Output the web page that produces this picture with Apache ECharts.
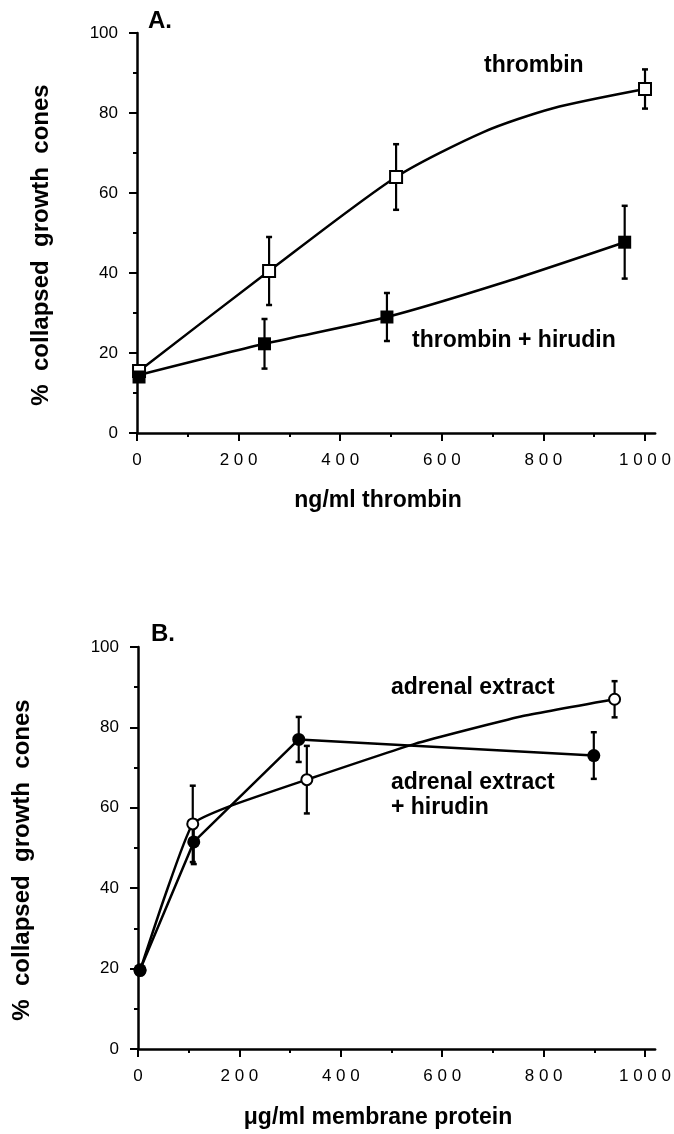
<!DOCTYPE html>
<html>
<head>
<meta charset="utf-8">
<script src="https://cdn.jsdelivr.net/npm/echarts@6/dist/echarts.min.js"></script>
<style>
  html, body { margin: 0; padding: 0; background: #fff; }
  #chart { width: 674px; height: 1134px; }
</style>
</head>
<body>
<div id="chart"></div>
<script>
// ticks (shared by both panels)
var xMajor = [0, 200, 400, 600, 800, 1000];
var xMinor = [100, 300, 500, 700, 900];
var yMajor = [0, 20, 40, 60, 80, 100];

// panel A - thrombin dose response
var thrombinX = [4, 260, 510, 1000];
var thrombinY = [15.5, 40.5, 64, 86];
var thrombinErr = [0, 8.5, 8.2, 4.9];
var thrombinCurve = [[4, 15.5], [260, 40.5], [510, 64], [683, 75.3], [819, 81.2], [1000, 86]];

var hirudinX = [4, 251, 492, 960];
var hirudinY = [14, 22.3, 29, 47.7];
var hirudinErr = [0, 6.2, 6, 9.1];
var hirudinCurve = [[4, 14.5], [251, 22.3], [492, 29], [718, 37.5], [960, 47.7]];

// panel B - adrenal extract
var adrenalX = [4, 108, 333, 940];
var adrenalY = [19.5, 56, 67, 87];
var adrenalErr = [0, 9.5, 8.4, 4.5];
var adrenalCurve = [[4, 19.5], [53, 38], [108, 56], [179, 60.3], [333, 67], [546, 75.9], [755, 82.7], [940, 87]];

var adrenalHirX = [4, 110, 317, 899];
var adrenalHirY = [19.7, 51.5, 77, 73];
var adrenalHirErr = [0, 5.5, 5.6, 5.8];

var FONT = '"Liberation Sans", Arial, Helvetica, sans-serif';

function pts(xs, ys) {
  return xs.map(function (x, i) { return [x, ys[i]]; });
}
function errs(xs, ys, es) {
  var out = [];
  xs.forEach(function (x, i) {
    if (es[i] > 0) out.push([x, ys[i] - es[i], ys[i] + es[i]]);
  });
  return out;
}

function renderErr(params, api) {
  var x = api.value(0);
  var top = api.coord([x, api.value(2)]);
  var bot = api.coord([x, api.value(1)]);
  var cap = 3;
  return {
    type: 'group',
    children: [
      { type: 'line', shape: { x1: top[0], y1: top[1], x2: bot[0], y2: bot[1] }, style: { stroke: '#000', lineWidth: 2.2 } },
      { type: 'line', shape: { x1: top[0] - cap, y1: top[1], x2: top[0] + cap, y2: top[1] }, style: { stroke: '#000', lineWidth: 2.5 } },
      { type: 'line', shape: { x1: bot[0] - cap, y1: bot[1], x2: bot[0] + cap, y2: bot[1] }, style: { stroke: '#000', lineWidth: 2.5 } }
    ]
  };
}

function xAxes(gi) {
  return [
    {
      gridIndex: gi, type: 'value', position: 'bottom', min: 0, max: 1020,
      axisLine: { lineStyle: { color: '#000', width: 2.5 } },
      axisTick: { customValues: xMajor, length: 8, lineStyle: { color: '#000', width: 2 } },
      axisLabel: {
        customValues: xMajor, margin: 19, color: '#000', fontSize: 17, fontFamily: FONT,
        formatter: function (v) { return String(v).split('').join(' '); }
      },
      splitLine: { show: false }
    },
    {
      gridIndex: gi, type: 'value', position: 'bottom', min: 0, max: 1020,
      axisLine: { show: false },
      axisTick: { customValues: xMinor, length: 4, lineStyle: { color: '#000', width: 2 } },
      axisLabel: { show: false },
      splitLine: { show: false }
    }
  ];
}

function yAxis(gi) {
  return {
    gridIndex: gi, type: 'value', min: 0, max: 100, interval: 20,
    axisLine: { show: true, lineStyle: { color: '#000', width: 2.5 } },
    axisTick: { show: true, length: 8, lineStyle: { color: '#000', width: 2 } },
    minorTick: { show: true, splitNumber: 2, length: 4, lineStyle: { color: '#000', width: 2 } },
    axisLabel: { margin: 19, color: '#000', fontSize: 17, fontFamily: FONT },
    splitLine: { show: false }
  };
}

function curve(xi, yi, data, smooth) {
  return {
    type: 'line', xAxisIndex: xi, yAxisIndex: yi, data: data, showSymbol: false,
    smooth: smooth, silent: true, z: 2,
    lineStyle: { color: '#000', width: 2.5 }
  };
}
function bars(xi, yi, data) {
  return { type: 'custom', xAxisIndex: xi, yAxisIndex: yi, data: data, renderItem: renderErr, z: 3, silent: true };
}
function marks(xi, yi, data, symbol, size, filled) {
  return {
    type: 'scatter', xAxisIndex: xi, yAxisIndex: yi, data: data, symbol: symbol, symbolSize: size, z: 4,
    itemStyle: { color: filled ? '#000' : '#fff', borderColor: '#000', borderWidth: filled ? 0 : 2, opacity: 1 }
  };
}

function label(text, x, y, size, align, rot) {
  return {
    type: 'text', x: x, y: y, rotation: rot || 0, z: 10,
    style: {
      text: text, font: 'bold ' + size + 'px ' + FONT, fill: '#000',
      align: align, verticalAlign: 'middle', textAlign: align, textVerticalAlign: 'middle'
    }
  };
}

var chart = echarts.init(document.getElementById('chart'), null, { renderer: 'canvas' });
chart.setOption({
  backgroundColor: '#fff',
  animation: false,
  grid: [
    { left: 137, top: 33, width: 521, height: 400 },
    { left: 138, top: 647, width: 521, height: 402 }
  ],
  xAxis: xAxes(0).concat(xAxes(1)),
  yAxis: [yAxis(0), yAxis(1)],
  series: [
    curve(0, 0, thrombinCurve, 0.25),
    curve(0, 0, hirudinCurve, 0.25),
    bars(0, 0, errs(thrombinX, thrombinY, thrombinErr)),
    bars(0, 0, errs(hirudinX, hirudinY, hirudinErr)),
    marks(0, 0, pts(thrombinX, thrombinY), 'rect', 12, false),
    marks(0, 0, pts(hirudinX, hirudinY), 'rect', 13, true),

    curve(2, 1, adrenalCurve, 0.15),
    curve(2, 1, pts(adrenalHirX, adrenalHirY), false),
    bars(2, 1, errs(adrenalX, adrenalY, adrenalErr)),
    bars(2, 1, errs(adrenalHirX, adrenalHirY, adrenalHirErr)),
    marks(2, 1, pts(adrenalX, adrenalY), 'circle', 11, false),
    marks(2, 1, pts(adrenalHirX, adrenalHirY), 'circle', 13, true)
  ],
  graphic: [
    label('A.', 148, 21, 24, 'left'),
    label('thrombin', 484, 66, 23, 'left'),
    label('thrombin + hirudin', 412, 341, 23, 'left'),
    label('ng/ml thrombin', 378, 501, 23, 'center'),
    label('%  collapsed  growth  cones', 41, 245, 24, 'center', Math.PI / 2),

    label('B.', 151, 634, 24, 'left'),
    label('adrenal extract', 391, 688, 23, 'left'),
    label('adrenal extract', 391, 783, 23, 'left'),
    label('+ hirudin', 391, 808, 23, 'left'),
    label('\u03bcg/ml membrane protein', 378, 1118, 23, 'center'),
    label('%  collapsed  growth  cones', 22, 860, 24, 'center', Math.PI / 2)
  ]
});
</script>
</body>
</html>
